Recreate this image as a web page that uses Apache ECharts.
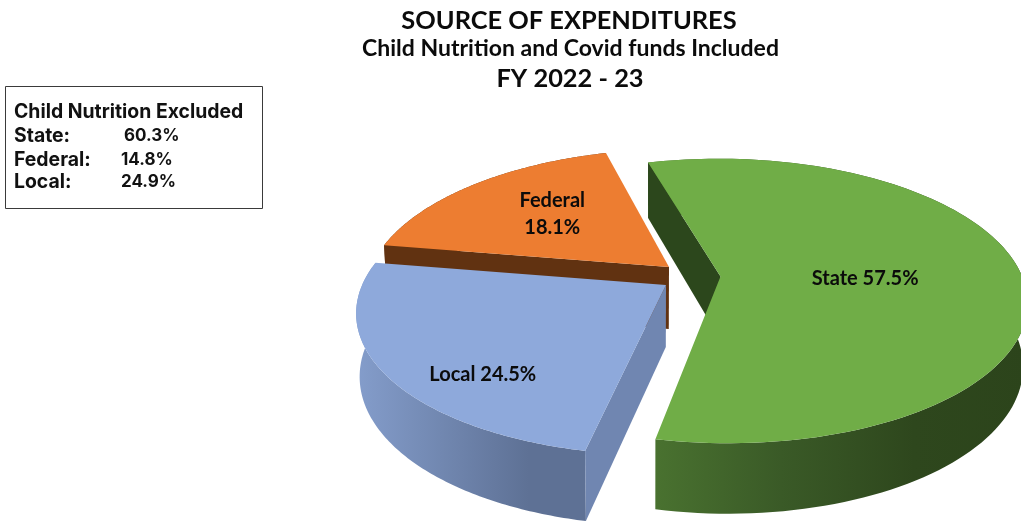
<!DOCTYPE html>
<html>
<head>
<meta charset="utf-8">
<title>Source of Expenditures FY 2022 - 23</title>
<script src="https://cdn.jsdelivr.net/npm/echarts@6/dist/echarts.min.js"></script>
<style>
  html, body { margin: 0; padding: 0; background: #fff; overflow: hidden; }
  #chart { width: 1021px; height: 523px; }
</style>
</head>
<body>
<div id="chart"></div>
<script>
// Expenditure shares, clockwise from the State slice
const categories = ['State', 'Local', 'Federal'];
const shares = [57.5, 24.5, 18.1];
const excludedNames = ['State:', 'Federal:', 'Local:'];
const excludedShares = ['60.3%', '14.8%', '24.9%'];
const titleLines = ['SOURCE OF EXPENDITURES', 'Child Nutrition and Covid funds Included', 'FY 2022 - 23'];

// Layout of the tilted pie: apex of each pulled-out slice and the projection constants
const apexes = { State: [720.5, 276.5], Local: [666, 285], Federal: [669, 267] };
const radiusX = 300, radiusY = 138, tilt = 0.172;
const startAngle = 103.4;
const wallDepth = 62, wallTilt = 0.12, wallTaper = 0.012, vanishX = 650, shearRate = 0.0016, roll = 0.017;

const looks = {
  State: {
    top: '#70AD47', face: '#2C471C', scale: 1,
    rim: [[0, '#4A7330'], [0.35, '#3A5A27'], [0.7, '#2E471D'], [1, '#2C441B']],
    label: { t: 0.517, r: 0.48, text: 'State 57.5%' }, order: 2
  },
  Local: {
    top: '#8EA9DB', face: '#7086B1', scale: 1.02,
    rim: [[0, '#849DCB'], [0.75, '#5E7195'], [1, '#5E7195']],
    label: { t: 0.355, r: 0.78, text: 'Local 24.5%' }, order: 3
  },
  Federal: {
    top: '#ED7D31', face: '#613211', scale: 1,
    rim: [[0, '#613211'], [1, '#613211']],
    label: { t: 0.53, r: 0.593, text: 'Federal\n18.1%' }, order: 1
  }
};

const total = shares.reduce((a, b) => a + b, 0);

// Projects an angle and a radius fraction on the pie plane to the screen
function project(name, deg, r) {
  const a = deg * Math.PI / 180;
  const k = looks[name].scale;
  const s = Math.sin(a) * r, c = Math.cos(a) * r;
  const w = 1 + tilt * s;
  const dx = k * radiusX * c / w;
  const dy = -k * radiusY * s / w - roll * dx;
  const ap = apexes[name];
  const shear = (ap[0] - vanishX) * shearRate;
  return [ap[0] + dx + shear * dy, ap[1] + dy];
}

// The same point on the underside of the slice
function drop(p, deg, r) {
  const s = Math.sin(deg * Math.PI / 180) * r;
  return [p[0] + (vanishX - p[0]) * wallTaper, p[1] + wallDepth / (1 + wallTilt * s)];
}

function renderSlice(params, api) {
  const name = categories[params.dataIndex];
  const look = looks[name];
  const before = shares.slice(0, params.dataIndex).reduce((a, b) => a + b, 0);
  const from = startAngle - before / total * 360;
  const sweep = api.value(0) / total * 360;
  const steps = 120;

  const arc = [], under = [];
  for (let i = 0; i <= steps; i++) {
    const deg = from - sweep * i / steps;
    const p = project(name, deg, 1);
    arc.push(p);
    under.push(drop(p, deg, 1));
  }
  const apex = project(name, 0, 0);
  const apexUnder = drop(apex, 0, 0);
  const base = look.order * 10;

  const mid = from - sweep * look.label.t;
  const lp = project(name, mid, look.label.r);

  return {
    type: 'group',
    children: [
      {
        type: 'polygon', z2: base,
        shape: { points: arc.concat(under.slice().reverse()) },
        style: {
          fill: new echarts.graphic.LinearGradient(0, 0, 1, 0,
            look.rim.map(([offset, color]) => ({ offset, color })))
        }
      },
      {
        type: 'polygon', z2: base + 1,
        shape: { points: [arc[0], apex, apexUnder, under[0]] },
        style: { fill: look.face }
      },
      {
        type: 'polygon', z2: base + 2,
        shape: { points: [apex].concat(arc) },
        style: { fill: look.top }
      },
      {
        type: 'text', z2: 100,
        style: {
          x: lp[0], y: lp[1], text: look.label.text,
          fill: '#0b0b0b', align: 'center', verticalAlign: 'middle',
          font: 'bold 20px Lato', lineHeight: 27
        }
      }
    ]
  };
}

const boxFont = 'bold 19.4px Inter';
const valueFont = 'bold 17px Inter';
const rowY = [136, 160, 182];
const valueX = [124, 121, 121];

const chart = echarts.init(document.getElementById('chart'), null, { renderer: 'canvas' });
chart.setOption({
  animation: false,
  backgroundColor: '#fff',
  title: [
    { text: titleLines[0], left: 564, top: 3, textAlign: 'center',
      textStyle: { fontFamily: 'Lato', fontWeight: 'bold', fontSize: 25.4, color: '#0b0b0b' } },
    { text: titleLines[1], left: 565.5, top: 32, textAlign: 'center',
      textStyle: { fontFamily: 'Lato', fontWeight: 'bold', fontSize: 23, color: '#0b0b0b' } },
    { text: titleLines[2], left: 565, top: 61, textAlign: 'center',
      textStyle: { fontFamily: 'Lato', fontWeight: 'bold', fontSize: 25.4, color: '#0b0b0b' } }
  ],
  graphic: [
    { type: 'rect', shape: { x: 5.5, y: 86.5, width: 257, height: 122 },
      style: { fill: '#fff', stroke: '#3a3a3a', lineWidth: 1 } },
    { type: 'text', style: { x: 14, y: 112, text: 'Child Nutrition Excluded', font: boxFont,
      fill: '#111', verticalAlign: 'middle' } }
  ].concat(excludedNames.flatMap((n, i) => [
    { type: 'text', style: { x: 14, y: rowY[i], text: n, font: boxFont, fill: '#111', verticalAlign: 'middle' } },
    { type: 'text', style: { x: valueX[i], y: rowY[i], text: excludedShares[i], font: valueFont, fill: '#111', verticalAlign: 'middle' } }
  ])),
  series: [{
    type: 'custom',
    coordinateSystem: 'none',
    renderItem: renderSlice,
    silent: true,
    data: shares.map(v => [v])
  }]
});
</script>
</body>
</html>
